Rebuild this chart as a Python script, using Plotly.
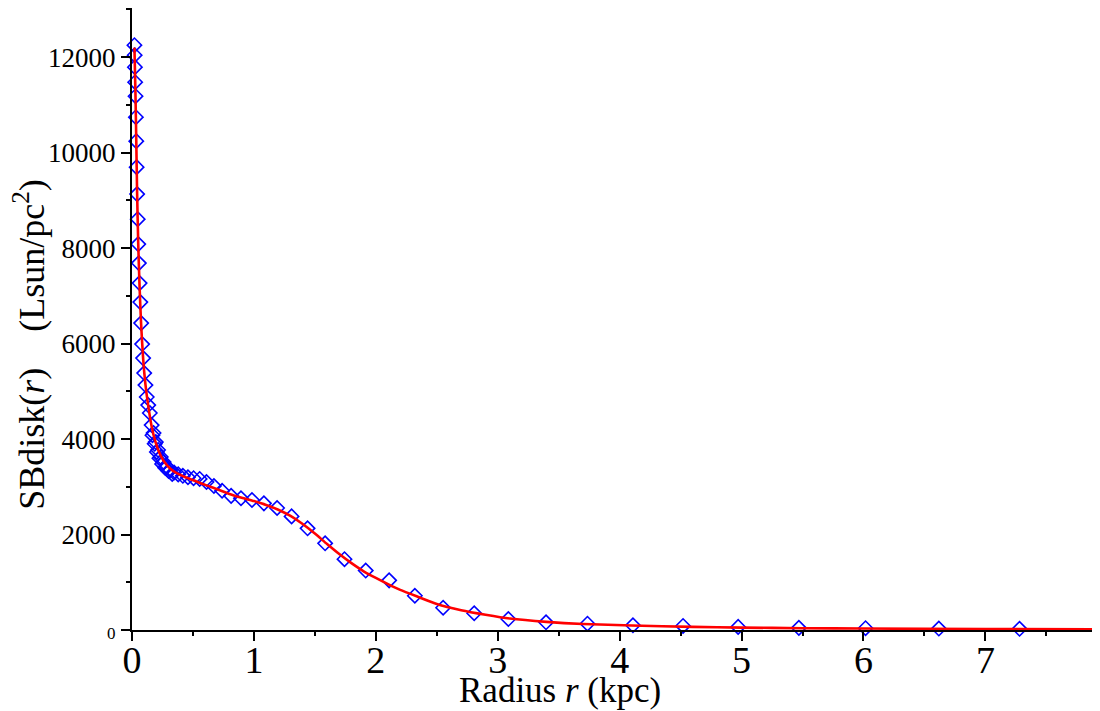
import plotly.graph_objects as go

# ---- data: observed surface brightness (diamonds) ----
radius_kpc = [0.020, 0.022, 0.024, 0.026, 0.029, 0.032, 0.035, 0.038, 0.042, 0.047,
              0.051, 0.056, 0.062, 0.068, 0.075, 0.083, 0.091, 0.100, 0.110, 0.121,
              0.133, 0.146, 0.161, 0.177, 0.195, 0.214, 0.236, 0.259, 0.285, 0.314,
              0.345, 0.379, 0.417, 0.459, 0.505, 0.555, 0.611, 0.672, 0.739, 0.813,
              0.894, 0.984, 1.082, 1.190, 1.309, 1.440, 1.584, 1.743, 1.917, 2.109,
              2.320, 2.552, 2.807, 3.087, 3.396, 3.736, 4.109, 4.520, 4.972, 5.470,
              6.017, 6.618, 7.280]
sb_obs = [12251, 12042, 11791, 11476, 11183, 10743, 10241, 9696, 9131, 8607,
          8084, 7686, 7267, 6869, 6429, 5990, 5696, 5382, 5131, 4880,
          4712, 4545, 4293, 4126, 3937, 3770, 3623, 3518, 3414, 3351,
          3300, 3260, 3230, 3200, 3180, 3165, 3100, 3016, 2917, 2810,
          2760, 2723, 2653, 2555, 2380, 2130, 1816, 1484, 1245, 1040,
          718, 467, 350, 230, 161, 132, 100, 85, 65, 45,
          38, 30, 25]

# second, interleaved set of observations in the knee
radius_extra = [0.168, 0.186, 0.204, 0.225, 0.247, 0.272, 0.300, 0.330]
sb_extra = [4080, 3900, 3730, 3600, 3480, 3400, 3330, 3270]

# ---- data: fitted model curve (red) ----
fit_r = [0.020, 0.024, 0.029, 0.035, 0.042, 0.051, 0.062, 0.075, 0.091, 0.110,
         0.133, 0.160, 0.190, 0.22, 0.26, 0.31, 0.37, 0.44, 0.52, 0.60,
         0.70, 0.80, 0.90, 1.00, 1.10, 1.20, 1.30, 1.40, 1.50, 1.60,
         1.70, 1.80, 1.90, 2.00, 2.10, 2.20, 2.35, 2.50, 2.70, 2.90,
         3.10, 3.40, 3.70, 4.10, 4.60, 5.00, 5.50, 6.00, 7.00, 7.94]
fit_sb = [12200, 11750, 11150, 10250, 9150, 8100, 7200, 6400, 5700, 5150,
          4700, 4280, 3960, 3740, 3540, 3390, 3280, 3200, 3120, 3040,
          2950, 2850, 2770, 2700, 2620, 2520, 2390, 2220, 2020, 1800,
          1590, 1400, 1230, 1090, 960, 840, 690, 545, 415, 320,
          240, 170, 125, 95, 65, 50, 38, 30, 20, 14]

x_ticks = [0, 1, 2, 3, 4, 5, 6, 7]
x_minor = [0.5, 1.5, 2.5, 3.5, 4.5, 5.5, 6.5, 7.5]
y_ticks = [0, 2000, 4000, 6000, 8000, 10000, 12000]
y_ticktext = ['<span style="font-size:17px">0</span>', '2000', '4000', '6000',
              '8000', '10000', '12000']

FONT = "Liberation Serif"

fig = go.Figure()
fig.add_trace(go.Scatter(
    x=radius_kpc + radius_extra, y=sb_obs + sb_extra, mode="markers",
    marker=dict(symbol="diamond-open", size=11, color="#0000ff",
                line=dict(width=1.6, color="#0000ff")),
    cliponaxis=False, showlegend=False))
fig.add_trace(go.Scatter(
    x=fit_r, y=fit_sb, mode="lines",
    line=dict(color="#ff0000", width=2.6, shape="spline", smoothing=0.6),
    cliponaxis=False, showlegend=False))

fig.update_layout(
    width=1100, height=711,
    margin=dict(l=124, r=8, t=0, b=89, autoexpand=False),
    plot_bgcolor="white", paper_bgcolor="white",
    font=dict(family=FONT, color="black"),
    annotations=[
        dict(text="Radius <i>r</i> (kpc)", xref="paper", yref="paper",
             x=0.442, y=-0.0965, showarrow=False, font=dict(size=35, family=FONT),
             xanchor="center", yanchor="middle"),
        dict(text="SBdisk(<i>r</i>)\u2003(Lsun/pc<sup>2</sup>)", xref="paper", yref="paper",
             x=-0.1054, y=0.46, showarrow=False, textangle=-90,
             font=dict(size=36, family=FONT), xanchor="center", yanchor="middle"),
    ],
)
fig.update_xaxes(
    range=[0, 7.94], showline=True, linecolor="black", linewidth=2,
    showgrid=False, zeroline=False, automargin=False,
    ticks="outside", ticklen=9, tickwidth=2, tickcolor="black",
    tickvals=x_ticks, ticktext=[str(v) for v in x_ticks],
    tickfont=dict(size=38, family=FONT), ticklabelstandoff=-14,
    minor=dict(tickvals=x_minor, ticks="outside", ticklen=4, tickwidth=1.5, tickcolor="black"),
)
fig.update_yaxes(
    range=[0, 13030], showline=True, linecolor="black", linewidth=2,
    showgrid=False, zeroline=False, automargin=False,
    ticks="outside", ticklen=9, tickwidth=2, tickcolor="black",
    tickvals=y_ticks, ticktext=y_ticktext,
    tickfont=dict(size=27, family=FONT), ticklabelstandoff=0,
    minor=dict(dtick=1000, ticks="outside", ticklen=4, tickwidth=1.5, tickcolor="black"),
)

fig.write_html("out.html")
